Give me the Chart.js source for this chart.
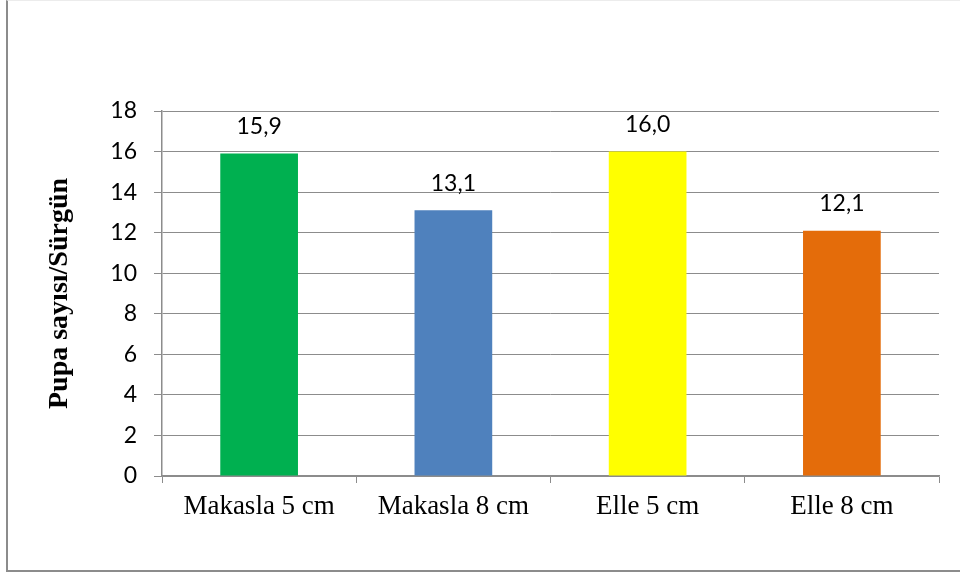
<!DOCTYPE html>
<html>
<head>
  <title>Pupa sayısı</title>
  <script src="https://cdn.jsdelivr.net/npm/chart.js"></script>
  <style>
    body { margin: 0; background: #fff; overflow: hidden; }
    #frame { position: absolute; left: 6px; top: 0; width: 980px; height: 572px;
             border-left: 2px solid #8c8c8c; border-bottom: 2px solid #8c8c8c; border-top: 1px solid #ececec; box-sizing: border-box; }
    #wrap { position: absolute; left: 0; top: 0; width: 960px; height: 578px; }
  </style>
</head>
<body>
<div id="frame"></div>
<div id="wrap"><canvas id="pupaChart" width="960" height="578"></canvas></div>

<script>
  const categories = ['Makasla 5 cm', 'Makasla 8 cm', 'Elle 5 cm', 'Elle 8 cm'];
  const values = [15.9, 13.1, 16.0, 12.1];
  const barColors = ['#00B050', '#4F81BD', '#FFFF00', '#E46C0A'];
  const yTicks = [0, 2, 4, 6, 8, 10, 12, 14, 16, 18];

  // value labels above each bar, with a decimal comma
  const valueLabels = {
    id: 'valueLabels',
    afterDatasetsDraw(chart) {
      const ctx = chart.ctx;
      const meta = chart.getDatasetMeta(0);
      ctx.save();
      ctx.font = '23px Lato';
      ctx.fillStyle = '#000';
      ctx.textAlign = 'center';
      ctx.textBaseline = 'middle';
      meta.data.forEach((bar, i) => {
        ctx.fillText(values[i].toFixed(1).replace('.', ','), bar.x, bar.y - 27);
      });
      ctx.restore();
    }
  };

  new Chart(document.getElementById('pupaChart'), {
    type: 'bar',
    data: {
      labels: categories,
      datasets: [{
        data: values,
        backgroundColor: barColors,
        categoryPercentage: 0.4,
        barPercentage: 1
      }]
    },
    options: {
      responsive: false,
      animation: false,
      layout: { padding: { top: 111, right: 21, left: 0, bottom: 0 } },
      plugins: { legend: { display: false }, tooltip: { enabled: false } },
      scales: {
        x: {
          afterFit: s => { s.height = 102; },
          border: { color: '#8c8c8c', width: 1.5 },
          grid: { drawOnChartArea: false, drawTicks: true, tickLength: 7, color: '#8c8c8c' },
          ticks: { color: '#000', padding: 8, font: { family: 'Liberation Serif', size: 27 } }
        },
        y: {
          min: 0,
          max: 18,
          afterFit: s => { s.width = 162; },
          afterBuildTicks: s => { s.ticks = yTicks.map(v => ({ value: v })); },
          border: { color: '#8c8c8c', width: 1.5 },
          grid: { color: '#8c8c8c', lineWidth: 1, tickLength: 8 },
          ticks: { color: '#000', padding: 17, font: { family: 'Lato', size: 23 } },
          title: {
            display: true,
            text: 'Pupa sayısı/Sürgün',
            color: '#000',
            padding: { top: 43, bottom: 0 },
            font: { family: 'Liberation Serif', size: 28, weight: 'bold' }
          }
        }
      }
    },
    plugins: [valueLabels]
  });
</script>
</body>
</html>
